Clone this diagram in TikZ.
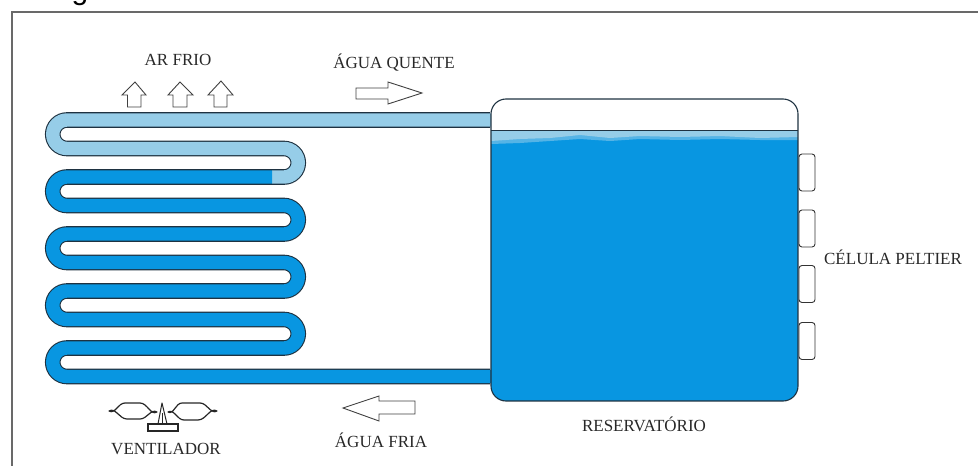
\documentclass[tikz,border=0pt]{standalone}
\usepackage{fontspec}
\setmainfont{Liberation Serif}
\newfontfamily\topfont{Liberation Sans}
\definecolor{tubeblue}{RGB}{8,150,225}
\definecolor{tubelight}{RGB}{150,205,232}
\definecolor{bandmid}{RGB}{85,180,230}
\definecolor{edge}{RGB}{30,50,65}
\definecolor{framegray}{RGB}{105,105,105}
\definecolor{labelink}{RGB}{40,40,40}
\tikzset{
  lbl/.style={font=\fontsize{17}{19}\selectfont, text=labelink, inner sep=0pt},
  outlinearrow/.style={draw=black!75, line width=0.9pt, fill=white, line join=miter},
  peltier/.style={draw=black!80, line width=0.9pt, fill=white, rounded corners=3pt, minimum width=16pt, minimum height=37pt, inner sep=0pt},
  tubeedge/.style={draw=edge, line width=15.6pt, line cap=butt},
  tubefill/.style={line width=13.4pt, line cap=butt},
  fanline/.style={draw=black!85, line width=1.2pt, line join=round},
  lt/.style={}
}
\begin{document}
\begin{tikzpicture}[x=1pt,y=-1pt]
\useasboundingbox (0,0) rectangle (978,466);
% frame
\draw[framegray,line width=1.2pt] (12,466) -- (12,12) -- (978,12);
% cropped heading letter
\node[font=\topfont\fontsize{30}{32}\selectfont,text=black,anchor=base,inner sep=0pt] (heading) at (80,-1) {g};
% tube
\def\lturn{arc[start angle=-90,end angle=-270,radius=14.25]}
\def\rturn{arc[start angle=-90,end angle=90,radius=14.25]}
\draw[tubeedge] (490,120) -- (67,120) \lturn
 -- (284,148.5) \rturn
 -- (67,177) \lturn
 -- (284,205.5) \rturn
 -- (67,234) \lturn
 -- (284,262.5) \rturn
 -- (67,291) \lturn
 -- (284,319.5) \rturn
 -- (67,348) \lturn
 -- (490,376.5);
\draw[tubefill,tubelight] (492,120) -- (67,120) \lturn
 -- (284,148.5) \rturn -- (272,177);
\draw[tubefill,tubeblue] (272,177) -- (67,177) \lturn
 -- (284,205.5) \rturn
 -- (67,234) \lturn
 -- (284,262.5) \rturn
 -- (67,291) \lturn
 -- (284,319.5) \rturn
 -- (67,348) \lturn
 -- (492,376.5);
% peltier cells
\node[peltier] (p1) at (807,172.5) {};
\node[peltier] (p2) at (807,228.5) {};
\node[peltier] (p3) at (807,284) {};
\node[peltier] (p4) at (807,341) {};
% reservoir
\begin{scope}
\clip[rounded corners=15pt] (491,99) rectangle (798,401);
\fill[white] (491,99) rectangle (798,401);
\fill[tubeblue] (491,130) rectangle (798,401);
\fill[bandmid] (491,131) -- (798,131) -- (798,140)
  -- (760,140) -- (720,139) -- (680,140) -- (640,139) -- (610,141) -- (580,139)
  -- (550,141) -- (520,143) -- (491,144) -- cycle;
\fill[tubelight] (491,131) -- (798,131) -- (798,137)
  -- (760,138) -- (720,136) -- (680,137) -- (640,136) -- (610,138) -- (580,135)
  -- (550,138) -- (520,139) -- (491,141) -- cycle;
\draw[edge,line width=0.8pt] (491,130.5) -- (798,130.5);
\end{scope}
\draw[edge,line width=1.1pt,rounded corners=15pt] (491,99) rectangle (798,401);
% arrows
\draw[outlinearrow] (135,82) -- (122,95) -- (127.5,95) -- (127.5,107) -- (141,107) -- (141,95) -- (146,95) -- cycle;
\draw[outlinearrow] (180,82) -- (168,95) -- (173,95) -- (173,107) -- (187,107) -- (187,95) -- (193,95) -- cycle;
\draw[outlinearrow] (221,81) -- (208,95) -- (214,95) -- (214,107) -- (227,107) -- (227,95) -- (233,95) -- cycle;
\draw[outlinearrow] (356,88) -- (388,88) -- (388,82) -- (422,93) -- (388,104) -- (388,99) -- (356,99) -- cycle;
\draw[outlinearrow] (415,401) -- (379,401) -- (379,396) -- (343,408) -- (379,421) -- (379,414) -- (415,414) -- cycle;
% fan
\draw[fanline] (109,411) to[out=-30,in=180] (125,403) -- (140,403) to[out=0,in=-150] (157,412) to[out=150,in=0] (140,419) -- (127,419) to[out=180,in=30] cycle;
\draw[fanline] (217,411) to[out=-150,in=0] (200,403) -- (182,403) to[out=180,in=-30] (168,412) to[out=30,in=180] (184,420) -- (198,420) to[out=0,in=150] cycle;
\draw[black!85,line width=1pt,fill=white,line join=round] (162,403) -- (158,424) -- (167,424) -- cycle;
\draw[black!85,line width=0.8pt] (162,413) -- (162,424);
\draw[black!85,line width=1.2pt,fill=white] (148,424) rectangle (178,431);
% labels
\node[lbl] (arfrio) at (178,60) {AR FRIO};
\node[lbl] (quente) at (394,63) {ÁGUA QUENTE};
\node[lbl] (peltierlabel) at (893,257) {CÉLULA PELTIER};
\node[lbl] (reservoirlabel) at (644,424) {RESERVATÓRIO};
\node[lbl] (fanlabel) at (166,449) {VENTILADOR};
\node[lbl] (fria) at (381,440) {ÁGUA FRIA};
\end{tikzpicture}
\end{document}
